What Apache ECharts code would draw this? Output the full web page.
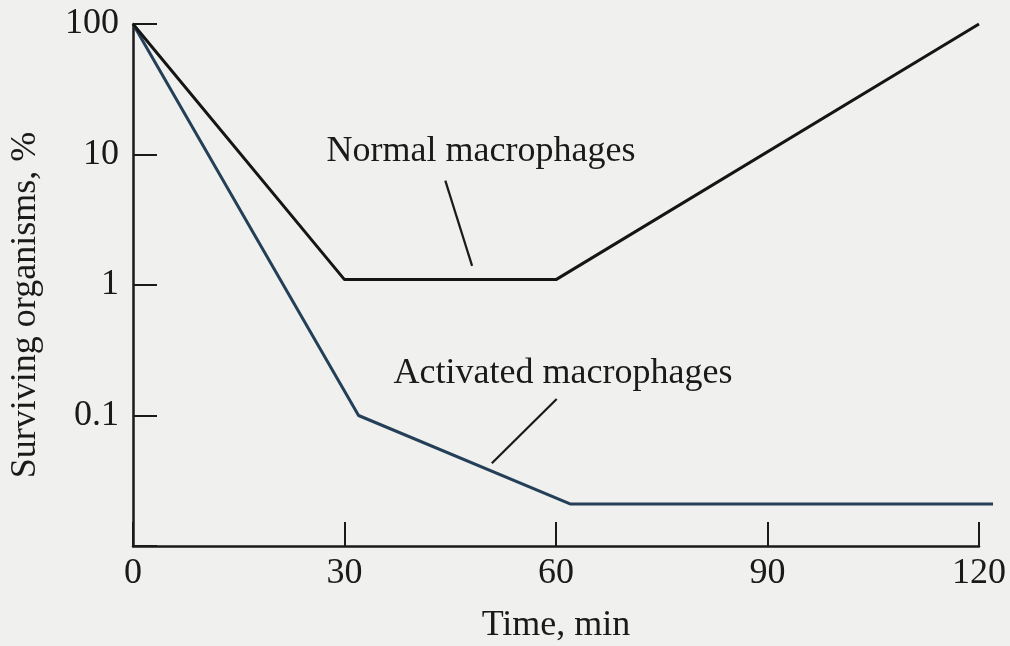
<!DOCTYPE html>
<html>
<head>
<meta charset="utf-8">
<script src="https://cdn.jsdelivr.net/npm/echarts@6/dist/echarts.min.js"></script>
<style>
html,body{margin:0;padding:0;background:#f0f0ee;}
#c{width:1010px;height:646px;}
</style>
</head>
<body>
<div id="c"></div>
<script>
// Data
var xTicks = [0, 30, 60, 90, 120];
var yTickLabels = ['100', '10', '1', '0.1'];
var normalData = [[0, 100], [30, 1.1], [60, 1.1], [120, 100]];
var activatedData = [[0, 100], [32, 0.1], [62, 0.021], [122, 0.021]];
var normalLeader = [[44.3, 6.3], [48.1, 1.4]];
var activatedLeader = [[60.1, 0.134], [50.9, 0.043]];
var labelNormal = 'Normal macrophages';
var labelActivated = 'Activated macrophages';
var xTitle = 'Time, min';
var yTitle = 'Surviving organisms, %';

var FONT = '"Liberation Serif", "Times New Roman", serif';
var INK = '#1a1a1a';

var chart = echarts.init(document.getElementById('c'), null, {renderer: 'canvas'});
chart.setOption({
  backgroundColor: '#f0f0ee',
  animation: false,
  grid: [
    {left: 133, right: 31, top: 24, bottom: 100, containLabel: false},
    {left: 133, right: 17, top: 24, bottom: 100, containLabel: false}
  ],
  xAxis: [{
    type: 'value', min: 0, max: 120, interval: 30, gridIndex: 0,
    axisLine: {show: true, lineStyle: {color: INK, width: 2.5}},
    axisTick: {show: true, inside: true, length: 24, lineStyle: {color: INK, width: 2}},
    axisLabel: {color: INK, fontFamily: FONT, fontSize: 36, margin: 10,
      formatter: function (v) { return xTicks.indexOf(v) >= 0 ? String(v) : ''; }},
    splitLine: {show: false}
  }, {
    type: 'value', min: 0, max: 122, gridIndex: 1, show: false, splitLine: {show: false}
  }],
  yAxis: [{
    type: 'log', logBase: 10, min: 0.01, max: 100, gridIndex: 0,
    axisLine: {show: true, lineStyle: {color: INK, width: 2.5}},
    axisTick: {show: true, inside: true, length: 24, lineStyle: {color: INK, width: 2}},
    axisLabel: {color: INK, fontFamily: FONT, fontSize: 36, margin: 14,
      formatter: function (v) {
        var s = String(Number(Number(v).toPrecision(3)));
        return yTickLabels.indexOf(s) >= 0 ? s : '';
      }},
    splitLine: {show: false}
  }, {
    type: 'log', logBase: 10, min: 0.01, max: 100, gridIndex: 1, show: false, splitLine: {show: false}
  }],
  series: [
    {
      name: labelNormal, type: 'line', data: normalData, symbol: 'none', clip: false,
      xAxisIndex: 0, yAxisIndex: 0,
      lineStyle: {color: '#151515', width: 3}, z: 3,
      markLine: {
        silent: true, symbol: 'none', label: {show: false},
        lineStyle: {color: INK, width: 2.2, type: 'solid'},
        data: [
          [{coord: normalLeader[0]}, {coord: normalLeader[1]}],
          [{coord: activatedLeader[0]}, {coord: activatedLeader[1]}]
        ]
      }
    },
    {
      name: labelActivated, type: 'line', data: activatedData, symbol: 'none', clip: false,
      xAxisIndex: 1, yAxisIndex: 1,
      lineStyle: {color: '#243f58', width: 3}, z: 2
    }
  ],
  graphic: [
    {type: 'text', x: 481, y: 152, style: {text: labelNormal, fill: INK, font: '36px ' + FONT, textAlign: 'center', textVerticalAlign: 'middle'}},
    {type: 'text', x: 563, y: 374, style: {text: labelActivated, fill: INK, font: '36px ' + FONT, textAlign: 'center', textVerticalAlign: 'middle'}},
    {type: 'text', x: 556, y: 626, style: {text: xTitle, fill: INK, font: '36px ' + FONT, textAlign: 'center', textVerticalAlign: 'middle'}},
    {type: 'text', x: 26, y: 305, rotation: Math.PI / 2, style: {text: yTitle, fill: INK, font: '36px ' + FONT, textAlign: 'center', textVerticalAlign: 'middle'}}
  ]
});
</script>
</body>
</html>
